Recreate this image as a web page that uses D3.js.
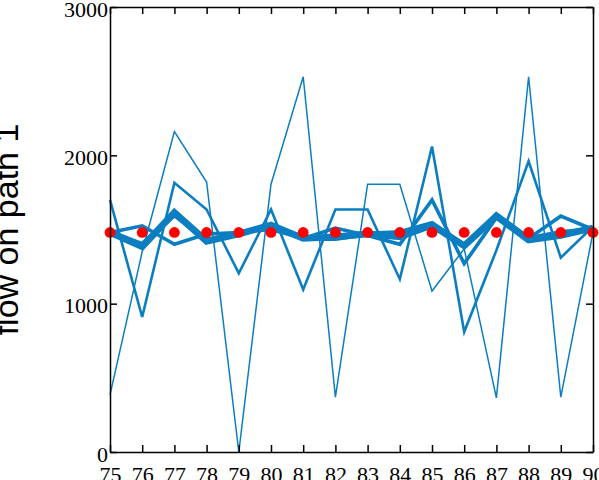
<!DOCTYPE html>
<html>
<head>
<meta charset="utf-8">
<script src="https://cdn.jsdelivr.net/npm/d3@7"></script>
<style>
  html, body { margin: 0; padding: 0; background: #fff; }
  svg { display: block; }
</style>
</head>
<body>
<div id="chart"></div>
<script>
// ---- data ----
const iterations = [75, 76, 77, 78, 79, 80, 81, 82, 83, 84, 85, 86, 87, 88, 89, 90];
const seriesA = [385, 1350, 2160, 1820, 0, 1805, 2530, 370, 1805, 1805, 1085, 1370, 365, 2530, 370, 1480];
const seriesB = [1700, 910, 1815, 1635, 1205, 1635, 1095, 1635, 1635, 1165, 2060, 810, 1360, 1960, 1310, 1520];
const seriesC = [1480, 1525, 1400, 1470, 1480, 1500, 1440, 1510, 1460, 1400, 1700, 1270, 1580, 1440, 1590, 1500];
const seriesD = [1480, 1400, 1600, 1430, 1470, 1530, 1440, 1440, 1470, 1480, 1540, 1390, 1600, 1440, 1480, 1500];
const seriesE = [1480, 1385, 1615, 1420, 1470, 1530, 1440, 1450, 1470, 1450, 1530, 1390, 1590, 1430, 1460, 1510];
const equilibrium = [1480, 1480, 1480, 1480, 1480, 1480, 1480, 1480, 1480, 1480, 1480, 1480, 1480, 1480, 1480, 1480];
const yTicks = [0, 1000, 2000, 3000];
const yLabel = "flow on path 1";

const seriesList = [
  { values: seriesA, width: 1.5 },
  { values: seriesB, width: 2.6 },
  { values: seriesC, width: 3.6 },
  { values: seriesD, width: 5 },
  { values: seriesE, width: 6.8 }
];

// ---- layout ----
const W = 599, H = 480;
const mLeft = 110, mRight = 593, mTop = 7, mBottom = 452;
const lineColor = "#0b7ec1";

const svg = d3.select("#chart").append("svg").attr("width", W).attr("height", H);

const x = d3.scaleLinear().domain([75, 90]).range([mLeft, mRight]);
const y = d3.scaleLinear().domain([0, 3000]).range([mBottom, mTop]);

const line = d3.line().x((d, i) => x(iterations[i])).y(d => y(d));

// lines
seriesList.forEach(s => {
  svg.append("path")
    .datum(s.values)
    .attr("d", line)
    .attr("fill", "none")
    .attr("stroke", lineColor)
    .attr("stroke-width", s.width)
    .attr("stroke-linejoin", "miter");
});

// red dots
svg.append("g").selectAll("circle")
  .data(equilibrium)
  .join("circle")
  .attr("cx", (d, i) => x(iterations[i]))
  .attr("cy", d => y(d))
  .attr("r", 5.4)
  .attr("fill", "#ff0000");

// axes (box with inward ticks)
const tickFont = "'Liberation Serif', 'Times New Roman', serif";
const xAxisB = d3.axisBottom(x).tickValues(iterations).tickFormat(d3.format("d")).tickSizeInner(-7).tickSizeOuter(0).tickPadding(14);
const xAxisT = d3.axisTop(x).tickValues(iterations).tickFormat("").tickSizeInner(-7).tickSizeOuter(0);
const yAxisL = d3.axisLeft(y).tickValues(yTicks).tickFormat(d3.format("d")).tickSizeInner(-7).tickSizeOuter(0).tickPadding(2);
const yAxisR = d3.axisRight(y).tickValues(yTicks).tickFormat("").tickSizeInner(-7).tickSizeOuter(0);

function styleAxis(g) {
  g.selectAll("path.domain").attr("stroke", "#000").attr("stroke-width", 1.5);
  g.selectAll(".tick line").attr("stroke", "#000").attr("stroke-width", 1.5);
  g.selectAll("text").attr("fill", "#000").style("font-family", tickFont).style("font-size", "22px");
}

svg.append("g").attr("transform", `translate(0,${mBottom})`).call(xAxisB).call(styleAxis)
  .selectAll("text").attr("dy", "0.71em").attr("y", 14);
svg.append("g").attr("transform", `translate(0,${mTop})`).call(xAxisT).call(styleAxis);
svg.append("g").attr("transform", `translate(${mLeft},0)`).call(yAxisL).call(styleAxis)
  .selectAll("text").attr("x", -2).attr("dy", "0.42em");
svg.append("g").attr("transform", `translate(${mRight},0)`).call(yAxisR).call(styleAxis);

// y label
svg.append("text")
  .attr("transform", `translate(18,${(mTop + mBottom) / 2}) rotate(-90)`)
  .attr("text-anchor", "middle")
  .style("font-family", "'Liberation Sans', Arial, sans-serif")
  .style("font-size", "34px")
  .attr("fill", "#000")
  .text(yLabel);
</script>
</body>
</html>
